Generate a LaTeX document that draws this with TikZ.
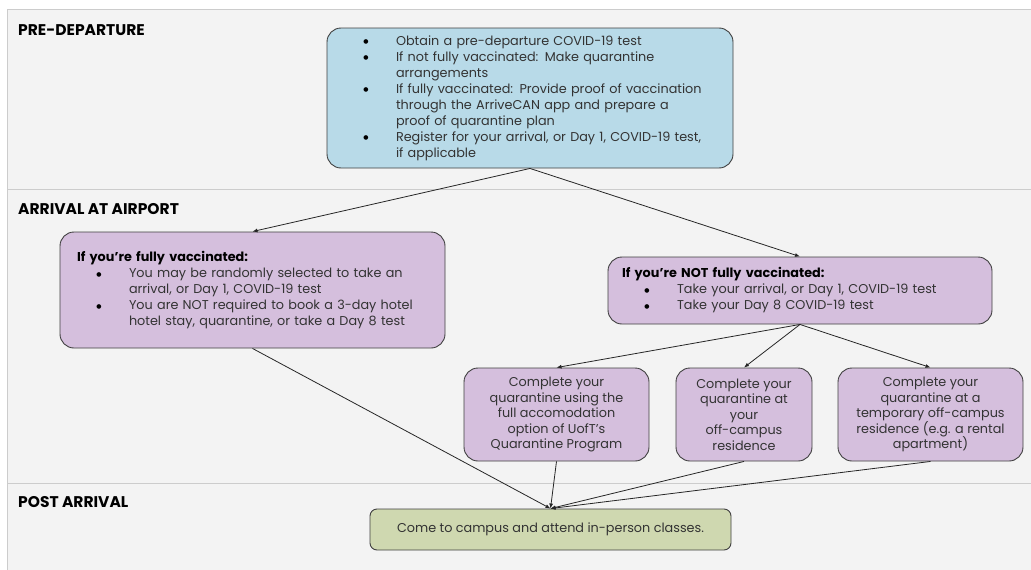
\documentclass[tikz,border=0pt]{standalone}
\usepackage{fontspec}
\setmainfont{Poppins}
\newfontfamily\dejavu{DejaVu Sans}
\usetikzlibrary{arrows.meta}
\definecolor{bgpanel}{HTML}{F3F3F3}
\definecolor{rulegray}{HTML}{CCCCCC}
\definecolor{bluefill}{HTML}{B8DAE8}
\definecolor{purplefill}{HTML}{D5BFDD}
\definecolor{greenfill}{HTML}{CFD8B0}
\definecolor{txtgray}{HTML}{333333}
\newcommand\dotmark{\raisebox{1.3pt}{\dejavu\fontsize{6}{6}\selectfont\color{black}●}}
\newcommand\bl[1]{\mbox{\makebox[25pt][r]{\makebox[0pt]{\dotmark}}\hspace*{30pt}#1}}
\newcommand\cl[1]{\mbox{\hspace*{55pt}#1}}
\tikzset{
  boxbase/.style={draw=black!75, line width=0.9pt, rounded corners=14pt, inner ysep=0pt, text=txtgray},
  listbox/.style={boxbase, inner xsep=14pt, align=left, font=\fontsize{12.8}{16}\selectfont},
  smallbox/.style={boxbase, inner xsep=2pt, align=center, font=\fontsize{12.8}{15.5}\selectfont},
  phase/.style={anchor=west, font=\fontsize{15.5}{16}\selectfont\bfseries, text=black, inner sep=0pt},
  arr/.style={draw=black!85, line width=0.8pt, -{Latex[length=5pt,width=4pt]}},
  divider/.style={draw=rulegray, line width=0.8pt}
}
\begin{document}
\begin{tikzpicture}[x=1pt, y=-1pt]
\useasboundingbox (0,0) rectangle (1031,570);
\fill[white] (0,0) rectangle (1031,570);
\fill[bgpanel] (7,9) rectangle (1031,570);
\draw[divider] (7,570) -- (7,9) -- (1031,9);
\draw[divider] (7,189) -- (1031,189);
\draw[divider] (7,483) -- (1031,483);

\node[phase] (lpre) at (18,30) {PRE-DEPARTURE};
\node[phase] (larr) at (18,209) {ARRIVAL AT AIRPORT};
\node[phase] (lpost) at (18,502) {POST ARRIVAL};

\node[listbox, fill=bluefill, text width=378pt, minimum height=140pt] (pre) at (530,98) {%
\bl{Obtain a pre-departure COVID-19 test}\\
\bl{If not fully vaccinated: Make quarantine}\\
\cl{arrangements}\\
\bl{If fully vaccinated: Provide proof of vaccination}\\
\cl{through the ArriveCAN app and prepare a}\\
\cl{proof of quarantine plan}\\
\bl{Register for your arrival, or Day 1, COVID-19 test,}\\
\cl{if applicable}};

\node[listbox, fill=purplefill, text width=357pt, minimum height=116pt] (vax) at (252.5,290) {%
\mbox{\hspace*{3pt}\textcolor{black}{\textbf{If you're fully vaccinated:}}}\\
\bl{You may be randomly selected to take an}\\
\cl{arrival, or Day 1, COVID-19 test}\\
\bl{You are NOT required to book a 3-day hotel}\\
\cl{hotel stay, quarantine, or take a Day 8 test}};

\node[listbox, fill=purplefill, text width=356pt, minimum height=67pt] (novax) at (800,290.5) {%
\mbox{\textcolor{black}{\textbf{If you're NOT fully vaccinated:}}}\\
\bl{Take your arrival, or Day 1, COVID-19 test}\\
\bl{Take your Day 8 COVID-19 test}};

\node[smallbox, fill=purplefill, minimum width=185pt, minimum height=93pt] (qprog) at (556.5,414.5) {%
Complete your\\quarantine using the\\full accomodation\\option of UofT's\\Quarantine Program};
\node[smallbox, fill=purplefill, minimum width=136pt, minimum height=93pt] (qhome) at (744,414.5) {%
Complete your\\quarantine at\\your\\off-campus\\residence};
\node[smallbox, fill=purplefill, minimum width=185pt, minimum height=93pt] (qtemp) at (930.5,414.5) {%
Complete your\\quarantine at a\\temporary off-campus\\residence (e.g. a rental\\apartment)};

\node[boxbase, fill=greenfill, rounded corners=7pt, minimum width=361pt, minimum height=41pt, font=\fontsize{12.8}{15}\selectfont] (campus) at (550.5,529.5) {Come to campus and attend in-person classes.};

\draw[arr] (pre.south) -- (vax.north);
\draw[arr] (pre.south) -- (novax.north);
\draw[arr] (novax.south) -- (qprog.north);
\draw[arr] (novax.south) -- (qhome.north);
\draw[arr] (novax.south) -- (qtemp.north);
\draw[arr] (vax.south) -- (campus.north);
\draw[arr] (qprog.south) -- (campus.north);
\draw[arr] (qhome.south) -- (campus.north);
\draw[arr] (qtemp.south) -- (campus.north);
\end{tikzpicture}
\end{document}
